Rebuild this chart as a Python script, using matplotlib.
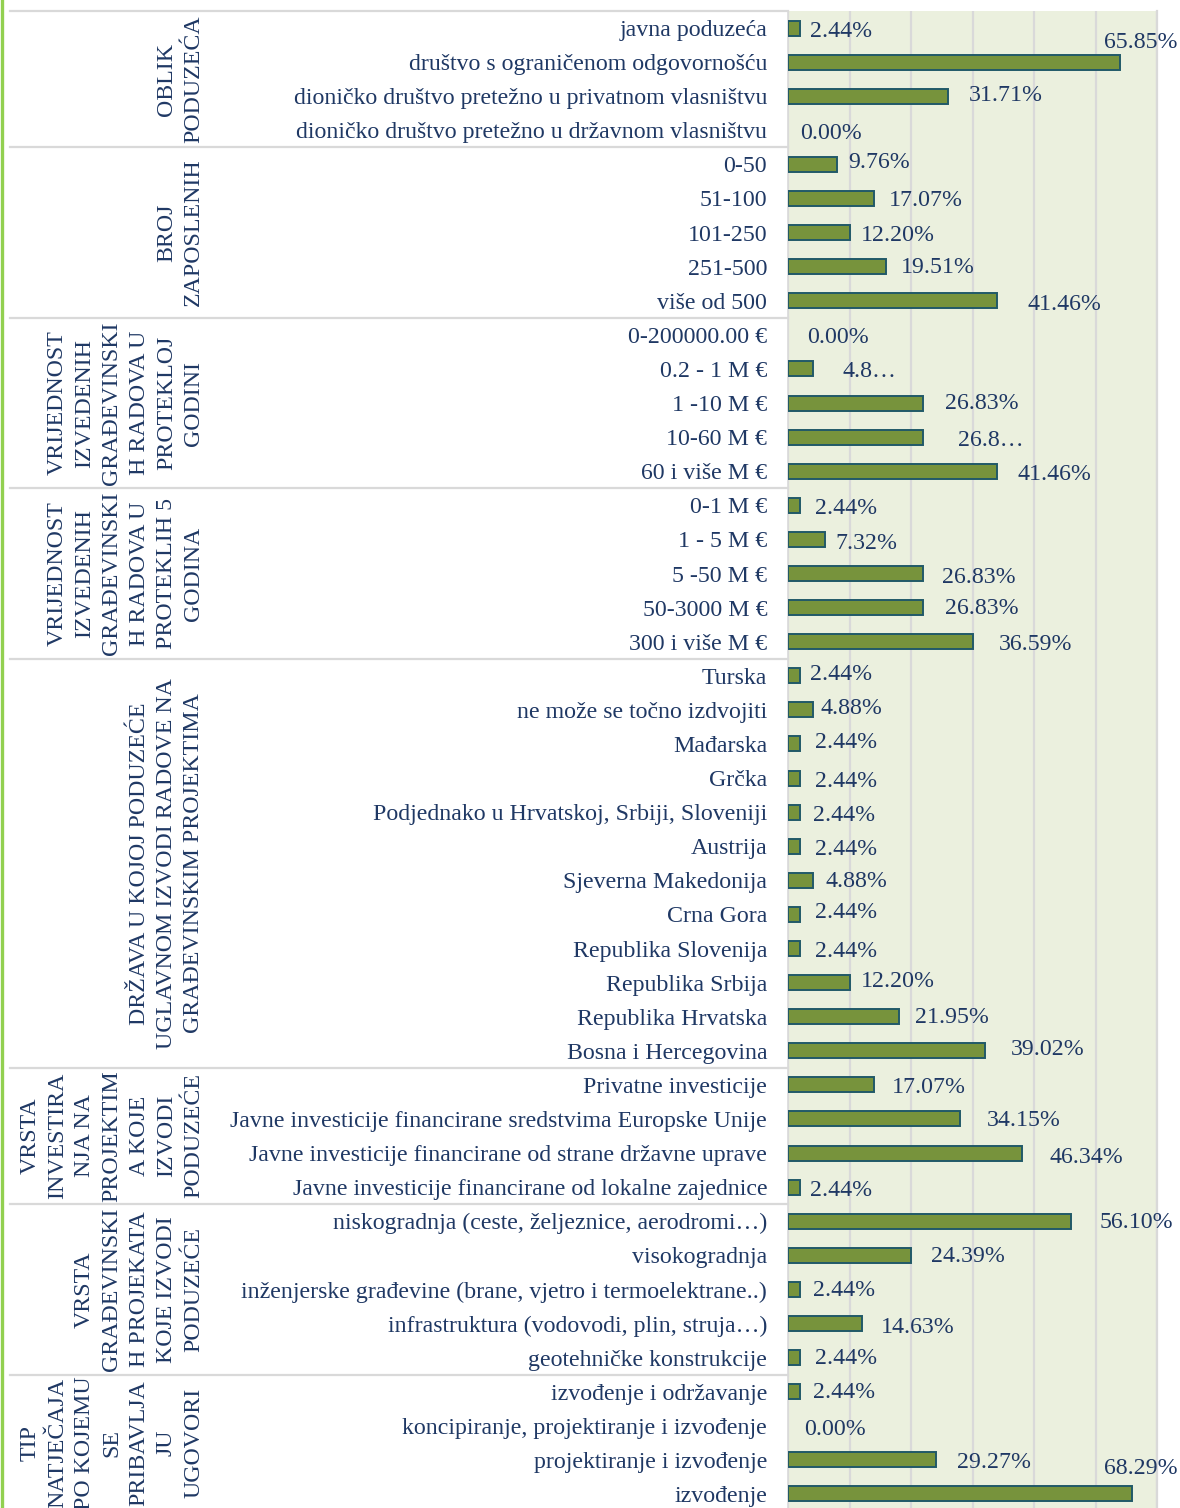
import matplotlib
matplotlib.use("Agg")
import matplotlib.pyplot as plt
from matplotlib.transforms import blended_transform_factory
from matplotlib.lines import Line2D

# ---------------- data ----------------
group_titles = [
    "OBLIK\nPODUZEĆA",
    "BROJ\nZAPOSLENIH",
    "VRIJEDNOST\nIZVEDENIH\nGRAĐEVINSKI\nH RADOVA U\nPROTEKLOJ\nGODINI",
    "VRIJEDNOST\nIZVEDENIH\nGRAĐEVINSKI\nH RADOVA U\nPROTEKLIH 5\nGODINA",
    "DRŽAVA U KOJOJ PODUZEĆE\nUGLAVNOM IZVODI RADOVE NA\nGRAĐEVINSKIM PROJEKTIMA",
    "VRSTA\nINVESTIRA\nNJA NA\nPROJEKTIM\nA KOJE\nIZVODI\nPODUZEĆE",
    "VRSTA\nGRAĐEVINSKI\nH PROJEKATA\nKOJE IZVODI\nPODUZEĆE",
    "TIP\nNATJEČAJA\nPO KOJEMU\nSE\nPRIBAVLJA\nJU\nUGOVORI",
]

oblik_cats = ["javna poduzeća", "društvo s ograničenom odgovornošću",
              "dioničko društvo pretežno u privatnom vlasništvu",
              "dioničko društvo pretežno u državnom vlasništvu"]
oblik_vals = [2.44, 65.85, 31.71, 0.00]

broj_cats = ["0-50", "51-100", "101-250", "251-500", "više od 500"]
broj_vals = [9.76, 17.07, 12.20, 19.51, 41.46]

god1_cats = ["0-200000.00 €", "0.2 - 1 M €", "1 -10 M €", "10-60 M €", "60 i više M €"]
god1_vals = [0.00, 4.88, 26.83, 26.83, 41.46]

god5_cats = ["0-1 M €", "1 - 5 M €", "5 -50 M €", "50-3000 M €", "300 i više M €"]
god5_vals = [2.44, 7.32, 26.83, 26.83, 36.59]

drzava_cats = ["Turska", "ne može se točno izdvojiti", "Mađarska", "Grčka",
               "Podjednako u Hrvatskoj, Srbiji, Sloveniji", "Austrija",
               "Sjeverna Makedonija", "Crna Gora", "Republika Slovenija",
               "Republika Srbija", "Republika Hrvatska", "Bosna i Hercegovina"]
drzava_vals = [2.44, 4.88, 2.44, 2.44, 2.44, 2.44, 4.88, 2.44, 2.44, 12.20, 21.95, 39.02]

invest_cats = ["Privatne investicije",
               "Javne investicije financirane sredstvima Europske Unije",
               "Javne investicije financirane od strane državne uprave",
               "Javne investicije financirane od lokalne zajednice"]
invest_vals = [17.07, 34.15, 46.34, 2.44]

vrsta_cats = ["niskogradnja (ceste, željeznice, aerodromi…)", "visokogradnja",
              "inženjerske građevine (brane, vjetro i termoelektrane..)",
              "infrastruktura (vodovodi, plin, struja…)", "geotehničke konstrukcije"]
vrsta_vals = [56.10, 24.39, 2.44, 14.63, 2.44]

tip_cats = ["izvođenje i održavanje", "koncipiranje, projektiranje i izvođenje",
            "projektiranje i izvođenje", "izvođenje"]
tip_vals = [2.44, 0.00, 29.27, 68.29]

# labels that are shown truncated in the original
truncated_labels = {10: "4.8…", 12: "26.8…"}

# axis in respondents (41) shown as percent: max 30, step 5
n_resp = 41
axis_max_count = 30
axis_step_count = 5

# ---------------- style ----------------
label_dx_px = [10, -16, 21, 12, 11, 15, 11, 14, 30, 19, 30, 22, 35, 20, 15, 10, 19, 22, 26,
               10, 8, 15, 15, 13, 15, 13, 15, 15, 11, 16, 26, 18, 27, 28, 10, 29, 20, 13, 19,
               15, 13, 16, 21, -28]
label_dy_px = [1, -22, -3, 1, -4, 0, 1, -1, 2, 1, 1, -2, 1, 1, 1, 2, 2, -1, 1,
               -3, -3, -3, 1, 1, 1, -1, -4, 1, -3, -1, -3, 1, 0, 2, 1, -1, -1, -1, 2,
               -1, -1, 2, 1, -27]
label_dy_shift = 2

TXT = "#1F3864"
BAR = "#77933C"
EDGE = "#215968"
BG = "#EBF0DE"
GRID = "#D9D9D9"
FONT = "Liberation Serif"
FS = 17.2

plt.rcParams["font.family"] = [FONT, "DejaVu Serif"]

groups_cats = [oblik_cats, broj_cats, god1_cats, god5_cats, drzava_cats, invest_cats, vrsta_cats, tip_cats]
groups_vals = [oblik_vals, broj_vals, god1_vals, god5_vals, drzava_vals, invest_vals, vrsta_vals, tip_vals]

cats, vals, bounds = [], [], [0]
for c, v in zip(groups_cats, groups_vals):
    cats += c
    vals += v
    bounds.append(len(cats))
n = len(cats)

W, H = 1180, 1508
fig = plt.figure(figsize=(W / 100, H / 100), dpi=100)
ax = fig.add_axes([788 / W, 1 - 1511 / H, (1157 - 788) / W, 1500 / H])
ax.set_facecolor(BG)

ys = list(range(n))
lw = [1.4 if v > 0 else 0 for v in vals]
ax.barh(ys, vals, height=0.44, color=BAR, edgecolor=EDGE, linewidth=lw, zorder=3)

xmax = axis_max_count / n_resp * 100
ticks = [k * axis_step_count / n_resp * 100 for k in range(axis_max_count // axis_step_count + 1)]
ax.set_xlim(0, xmax)
ax.set_ylim(n - 0.5, -0.5)
ax.set_xticks(ticks)
ax.xaxis.grid(True, color=GRID, lw=1.6, zorder=0)
ax.set_axisbelow(True)
ax.tick_params(axis="x", length=0, labelbottom=False)

ax.set_yticks(ys)
ax.set_yticklabels(cats, fontsize=FS, color=TXT)
ax.tick_params(axis="y", length=0, pad=15)

for s in ["top", "bottom"]:
    ax.spines[s].set_visible(False)
ax.spines["left"].set_color(GRID)
ax.spines["left"].set_linewidth(1.2)
ax.spines["right"].set_color(GRID)
ax.spines["right"].set_linewidth(1.6)

# data labels
for i, v in enumerate(vals):
    txt = truncated_labels.get(i, f"{v:.2f}%")
    ax.annotate(txt, xy=(v, i), xytext=(label_dx_px[i], -(label_dy_px[i] + label_dy_shift)),
                textcoords="offset pixels", ha="left", va="center",
                fontsize=FS, color=TXT, annotation_clip=False, zorder=5)

# group separators and titles
tr = blended_transform_factory(fig.transFigure, ax.transData)
for b in bounds[:-1]:
    ax.add_line(Line2D([10 / W, 788 / W], [b - 0.5, b - 0.5], transform=tr,
                       color=GRID, lw=1.6, clip_on=False))
for gi, title in enumerate(group_titles):
    yc = (bounds[gi] + bounds[gi + 1] - 1) / 2
    ax.text(204 / W, yc, title, transform=tr, rotation=90, ha="right", va="center",
            multialignment="center", fontsize=FS, color=TXT, linespacing=1.39,
            clip_on=False)

# green border on the left
fig.add_artist(Line2D([1.5 / W, 1.5 / W], [0, 1], transform=fig.transFigure,
                      color="#92D050", lw=2.4))

fig.savefig("out.png", dpi=100)
